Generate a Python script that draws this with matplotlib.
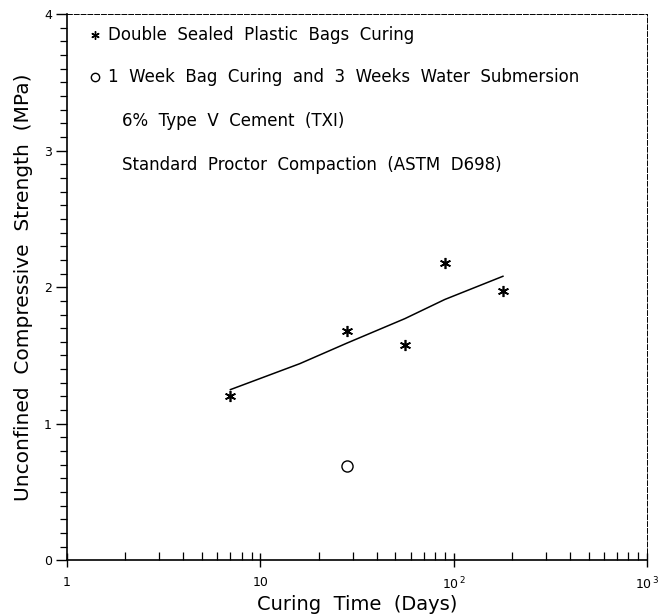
import matplotlib.pyplot as plt
import numpy as np
from matplotlib.ticker import LogLocator, MultipleLocator, NullFormatter

# data
bag_days = [7, 28, 56, 90, 180]
bag_ucs = [1.20, 1.68, 1.58, 2.18, 1.97]

water_days = [28]
water_ucs = [0.69]

# trend line through the bag curing points
fit_days = [7, 16, 28, 56, 90, 180]
fit_ucs = [1.25, 1.44, 1.59, 1.77, 1.91, 2.08]

xtick_vals = [1, 10, 100, 1000]
xtick_labels = ['1', '10', r'10$^{\,2}$', r'10$^{\,3}$']
ytick_vals = [0, 1, 2, 3, 4]

legend_lines = [
    ('*', 'Double  Sealed  Plastic  Bags  Curing'),
    ('o', '1  Week  Bag  Curing  and  3  Weeks  Water  Submersion'),
    (None, '6%  Type  V  Cement  (TXI)'),
    (None, 'Standard  Proctor  Compaction  (ASTM  D698)'),
]

plt.rcParams['font.family'] = ['DejaVu Sans']

fig = plt.figure(figsize=(6.71, 6.15), dpi=100)
ax = fig.add_axes([0.100, 0.089, 0.864, 0.888])

star = (6, 2, 0)
ax.plot(fit_days, fit_ucs, color='black', lw=1.1)
ax.plot(bag_days, bag_ucs, linestyle='none', marker=star, ms=8,
        mec='black', mew=1.2)
ax.plot(water_days, water_ucs, linestyle='none', marker='o', ms=8,
        mfc='white', mec='black', mew=1.0)

ax.set_xscale('log')
ax.set_xlim(1, 1000)
ax.set_ylim(0, 4)

ax.set_xticks(xtick_vals)
ax.set_xticklabels(xtick_labels)
ax.xaxis.set_minor_locator(LogLocator(base=10, subs=np.arange(2, 10)))
ax.xaxis.set_minor_formatter(NullFormatter())
ax.set_yticks(ytick_vals)
ax.yaxis.set_minor_locator(MultipleLocator(0.1))

ax.tick_params(axis='x', which='major', direction='inout', length=10,
               width=1, labelsize=9, pad=6)
ax.tick_params(axis='x', which='minor', direction='in', length=6, width=0.9)
ax.tick_params(axis='y', which='major', direction='out', length=8,
               width=1, labelsize=9, pad=3)
ax.tick_params(axis='y', which='minor', direction='out', length=5, width=0.9)
ax.tick_params(top=False, right=False, which='both')

ax.spines['left'].set_linewidth(1.2)
ax.spines['bottom'].set_linewidth(1.2)
for side in ['top', 'right']:
    ax.spines[side].set_linewidth(0.7)
    ax.spines[side].set_linestyle((0, (5, 2)))

ax.set_xlabel('Curing  Time  (Days)', fontsize=14, labelpad=2)
ax.set_ylabel('Unconfined  Compressive  Strength  (MPa)', fontsize=14.5,
              labelpad=8)

# legend block written as text, like the original
legend_y = [0.962, 0.884, 0.804, 0.724]
for (mk, txt), yy in zip(legend_lines, legend_y):
    if mk == '*':
        ax.plot([0.048], [yy], transform=ax.transAxes, marker=star, ms=6,
                mec='black', mew=1.0, linestyle='none')
    elif mk == 'o':
        ax.plot([0.048], [yy], transform=ax.transAxes, marker='o', ms=6,
                mfc='white', mec='black', mew=1.0, linestyle='none')
    tx = 0.070 if mk else 0.094
    ax.text(tx, yy, txt, transform=ax.transAxes, fontsize=12,
            va='center', ha='left')

fig.savefig('out.png', dpi=100)
